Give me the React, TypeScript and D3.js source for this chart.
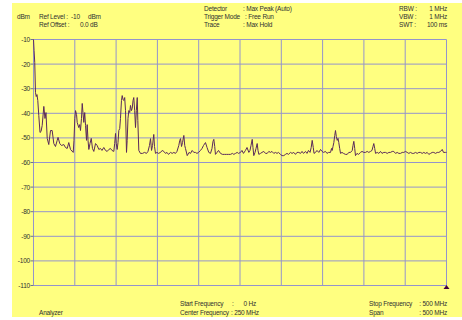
import * as d3 from "d3";

// trace: frequency (MHz) and level (dBm)
const freqMHz = [
  0, 0.7, 1.5, 2.4, 3.3, 4.2, 5.2, 6.4, 7.9, 9.1, 10.5, 12.5, 13.9, 15.1, 16.6, 18.5, 20.6, 22.6, 24.6, 26.6,
  28.7, 29.7, 31.8, 33.9, 36.7, 38.7, 40.8, 42.7, 44.8, 48.1, 49, 50, 50.9, 52.1, 52.9, 54.8, 55.9, 56.9, 58.1, 59,
  59.9, 60.9, 62, 63, 64.2, 65, 66, 67, 68.4, 69.9, 71.4, 73, 75.1, 77.1, 79.1, 81.1, 82.9, 85.1, 87.2, 89.2,
  91.2, 93.2, 95, 97.2, 98.3, 99.3, 100.2, 101.3, 102.3, 103.3, 104.4, 105.3, 106.5, 107.4, 108.4, 109.3, 110.4, 111.4, 112.6, 113.4,
  114.4, 115.4, 116.5, 117.4, 118.6, 119.5, 120.5, 121.4, 122.5, 123.5, 124.5, 125.6, 126.3, 127.5, 129.5, 132, 134.4, 136.8, 138.6, 140.4,
  141.7, 142.9, 144.1, 145.6, 146.5, 147.7, 149.5, 151.3, 153.8, 155.8, 157.8, 159.8, 161.6, 163.4, 165.9, 167.9, 169.9, 171.9, 173.7, 175.9,
  177.1, 178, 179.2, 180.4, 182, 183.1, 184, 186.1, 188.3, 190.1, 192.1, 194.1, 196.1, 197.9, 199.8, 202.2, 204, 205.8, 208.2, 210.1,
  212.2, 214.3, 216.1, 217.3, 218.3, 219.4, 220.3, 222.2, 224, 226.4, 228.8, 231.2, 233.7, 236.1, 238.5, 240.9, 242.5, 244.6, 246.6, 248.2,
  250.6, 252.4, 254.2, 256.6, 258.5, 260.7, 262.1, 263.3, 264.8, 265.7, 266.7, 268.2, 269.4, 270.8, 271.8, 272.8, 274.8, 276.6, 278.8, 280.9,
  282.9, 284.9, 286.9, 288.7, 290.9, 293, 294.8, 296.6, 299, 300.9, 303, 305.1, 306.9, 308.7, 311.1, 313, 315.1, 317.2, 319, 321.2,
  323.3, 325.1, 326.9, 329.3, 331.1, 332.9, 334.8, 336.2, 337.4, 338.7, 339.6, 341.4, 343.2, 345.4, 347.5, 349.3, 351.1, 353.5, 355.3, 357.2,
  359.6, 360.8, 361.6, 362.6, 363.6, 364.7, 365.6, 366.6, 367.7, 368.7, 369.6, 370.7, 371.7, 373.5, 375.3, 377.7, 379.8, 381.7, 383.8, 385.9,
  386.8, 387.8, 388.9, 389.8, 391.6, 393.5, 395.9, 397.7, 399.9, 401.9, 404, 405.9, 408, 409.8, 411, 412, 413.1, 414.1, 416.1, 418.1,
  420.1, 421.9, 424.1, 426.2, 428.2, 430.2, 432.2, 434.3, 436.2, 438.3, 440.3, 442.3, 444.3, 446.4, 448.3, 450.4, 452.4, 454.4, 456.4, 458.5,
  460.4, 462.5, 464.5, 466.5, 468.5, 470.6, 472.5, 474.6, 476.6, 478.6, 480.7, 482.7, 484.6, 486.7, 488.8, 490.7, 492.8, 494.8, 496.4, 498.8,
  500,
];

const levelDbm = [
  -10, -14.5, -19.3, -31.5, -33.2, -32.4, -34.8, -40.9, -47.8, -47.4, -45, -37.2, -42.1, -39.7, -50.2, -52.7, -47, -47, -52.3, -53.5,
  -51, -49.8, -52.3, -53.1, -52.7, -53.9, -54.3, -51.9, -54.7, -55.9, -51, -42.1, -38.9, -40.5, -43.7, -45.8, -44.6, -47, -42.1, -36,
  -39.7, -43.7, -39.7, -45, -51, -44.6, -51, -54.7, -52.3, -50.2, -54.3, -55.5, -52.3, -53.1, -54.7, -54.3, -55.1, -53.9, -55.1, -55.5,
  -54.7, -54.3, -55.1, -55.5, -52.3, -48.2, -52.3, -54.7, -51.9, -47, -46.2, -42.1, -34.8, -32.8, -34.4, -34.8, -33.6, -38.9, -55.9, -51,
  -42.1, -38.9, -39.7, -36.8, -38.9, -38, -34.8, -33.6, -38.9, -45.8, -38.9, -33.6, -42.9, -55.1, -56.3, -56.3, -55.9, -56.3, -55.5, -53.1,
  -50.3, -55.1, -53.1, -48.6, -53.5, -56.3, -55.9, -56.3, -55.9, -55.1, -55.5, -56.3, -55.9, -56.7, -55.9, -56.3, -55.9, -56.3, -55.5, -53.1,
  -51, -50.3, -53.5, -51.9, -49, -53.1, -54.3, -57.2, -55.9, -56.3, -55.1, -55.9, -55.9, -56.3, -55.9, -55.1, -54.3, -53.1, -51.9, -53.9,
  -55.9, -56.3, -54.3, -51.4, -50.6, -53.5, -56.7, -55.9, -55.1, -56.3, -56.7, -56.7, -56.7, -56.7, -56.7, -56.3, -56.7, -56.3, -55.9, -56.3,
  -55.9, -55.1, -56.3, -55.1, -53.9, -55.9, -55.1, -53.1, -50.6, -53.9, -57.2, -55.9, -54.3, -52.3, -55.1, -56.7, -56.3, -55.9, -55.5, -56.3,
  -56.3, -55.5, -55.9, -55.5, -56.3, -55.9, -56.3, -55.9, -56.7, -57.2, -57.2, -56.7, -56.3, -56.7, -55.9, -56.3, -55.9, -56.7, -55.9, -55.9,
  -56.3, -55.5, -56.3, -55.5, -56.3, -55.1, -55.9, -53.9, -51, -53.9, -56.3, -55.9, -55.1, -55.9, -54.7, -55.5, -55.9, -55.5, -56.3, -55.9,
  -55.9, -54.3, -55.1, -53.5, -51.9, -49, -47, -49.4, -51, -50.2, -51.9, -54.3, -56.3, -55.9, -56.3, -56.7, -56.7, -55.9, -55.9, -55.1,
  -53.1, -51.4, -54.3, -57.2, -56.3, -56.7, -55.9, -55.5, -55.9, -55.9, -55.5, -55.9, -55.5, -55.1, -53.5, -52.3, -54.3, -56.3, -55.9, -56.3,
  -55.5, -56.3, -55.9, -55.9, -56.3, -55.9, -55.9, -55.5, -55.5, -56.3, -55.9, -56.3, -56.3, -55.9, -55.9, -55.5, -55.9, -56.3, -55.9, -56.3,
  -56.3, -55.9, -56.3, -55.9, -55.9, -56.3, -55.9, -56.3, -55.9, -56.7, -56.3, -55.9, -55.9, -56.3, -55.9, -55.9, -55.5, -54.7, -55.9, -55.9,
  -55.9,
];

const yTicks = [-10, -20, -30, -40, -50, -60, -70, -80, -90, -100, -110];
const xGrid = [0, 50, 100, 150, 200, 250, 300, 350, 400, 450, 500];

const W = 462;
const H = 320;
const BG = "#ffff80";
const GRID = "#9494cc";
const TEXT = "#303030";
const TRACE = "#5a2a5a";
const FONT = "'Liberation Sans', Arial, sans-serif";

export default function App() {
  const x = d3.scaleLinear().domain([0, 500]).range([33.5, 446.5]);
  const y = d3.scaleLinear().domain([-10, -110]).range([39.5, 285.5]);

  const pts = freqMHz.map((f, i) => [f, levelDbm[i]] as [number, number]);
  const line = d3
    .line<[number, number]>()
    .x((d) => x(d[0]))
    .y((d) => y(d[1]));

  const txt = (tx: number, ty: number, s: string, anchor: "start" | "end" = "start") => (
    <text x={tx} y={ty} textAnchor={anchor} dominantBaseline="central">
      {s}
    </text>
  );

  const mx = x(500);
  const my = 287;

  return (
    <svg
      width={W}
      height={H}
      style={{ position: "absolute", left: 0, top: 0, display: "block" }}
    >
      <rect x={0} y={0} width={W} height={H} fill="#ffffff" />
      <rect x={12} y={3} width={W - 12} height={314} fill={BG} />

      {/* grid */}
      <g stroke={GRID} strokeWidth={1}>
        {yTicks.map((t) => (
          <line key={"h" + t} x1={x(0)} x2={x(500)} y1={y(t)} y2={y(t)} />
        ))}
        {xGrid.map((f) => (
          <line key={"v" + f} x1={x(f)} x2={x(f)} y1={y(-10)} y2={y(-110)} />
        ))}
        {yTicks.map((t) => (
          <line key={"t" + t} x1={x(0) - 3} x2={x(0)} y1={y(t)} y2={y(t)} stroke="#707090" />
        ))}
      </g>

      {/* trace */}
      <path d={line(pts) ?? ""} fill="none" stroke={TRACE} strokeWidth={1} strokeLinejoin="round" />

      {/* marker */}
      <path d={`M${mx - 3},${my + 2}L${mx + 3},${my + 2}L${mx},${my - 2}Z`} fill="#400040" />

      <g fontFamily={FONT} fontSize={6.5} letterSpacing={-0.2} fill={TEXT}>
        {yTicks.map((t) => (
          <text key={"l" + t} x={30} y={y(t)} textAnchor="end" dominantBaseline="central">
            {t}
          </text>
        ))}

        {txt(17, 16, "dBm")}
        {txt(39, 16, "Ref Level :")}
        {txt(71, 16, "-10")}
        {txt(88, 16, "dBm")}
        {txt(39, 24, "Ref Offset :")}
        {txt(80, 24, "0.0 dB")}

        {txt(204, 8, "Detector")}
        {txt(243, 8, ": Max Peak (Auto)")}
        {txt(204, 16, "Trigger Mode")}
        {txt(245, 16, ": Free Run")}
        {txt(204, 24, "Trace")}
        {txt(243, 24, ": Max Hold")}

        {txt(399, 8, "RBW :")}
        {txt(447, 8, "1 MHz", "end")}
        {txt(399, 16, "VBW :")}
        {txt(447, 16, "1 MHz", "end")}
        {txt(399, 24, "SWT :")}
        {txt(447, 24, "100 ms", "end")}

        {txt(39, 312, "Analyzer")}
        {txt(180, 303, "Start Frequency")}
        {txt(232, 303, ":")}
        {txt(256, 303, "0 Hz", "end")}
        {txt(180, 312, "Center Frequency")}
        {txt(231, 312, ": 250 MHz")}

        {txt(369, 303, "Stop Frequency")}
        {txt(447, 303, ": 500 MHz", "end")}
        {txt(369, 312, "Span")}
        {txt(447, 312, ": 500 MHz", "end")}
      </g>
    </svg>
  );
}
